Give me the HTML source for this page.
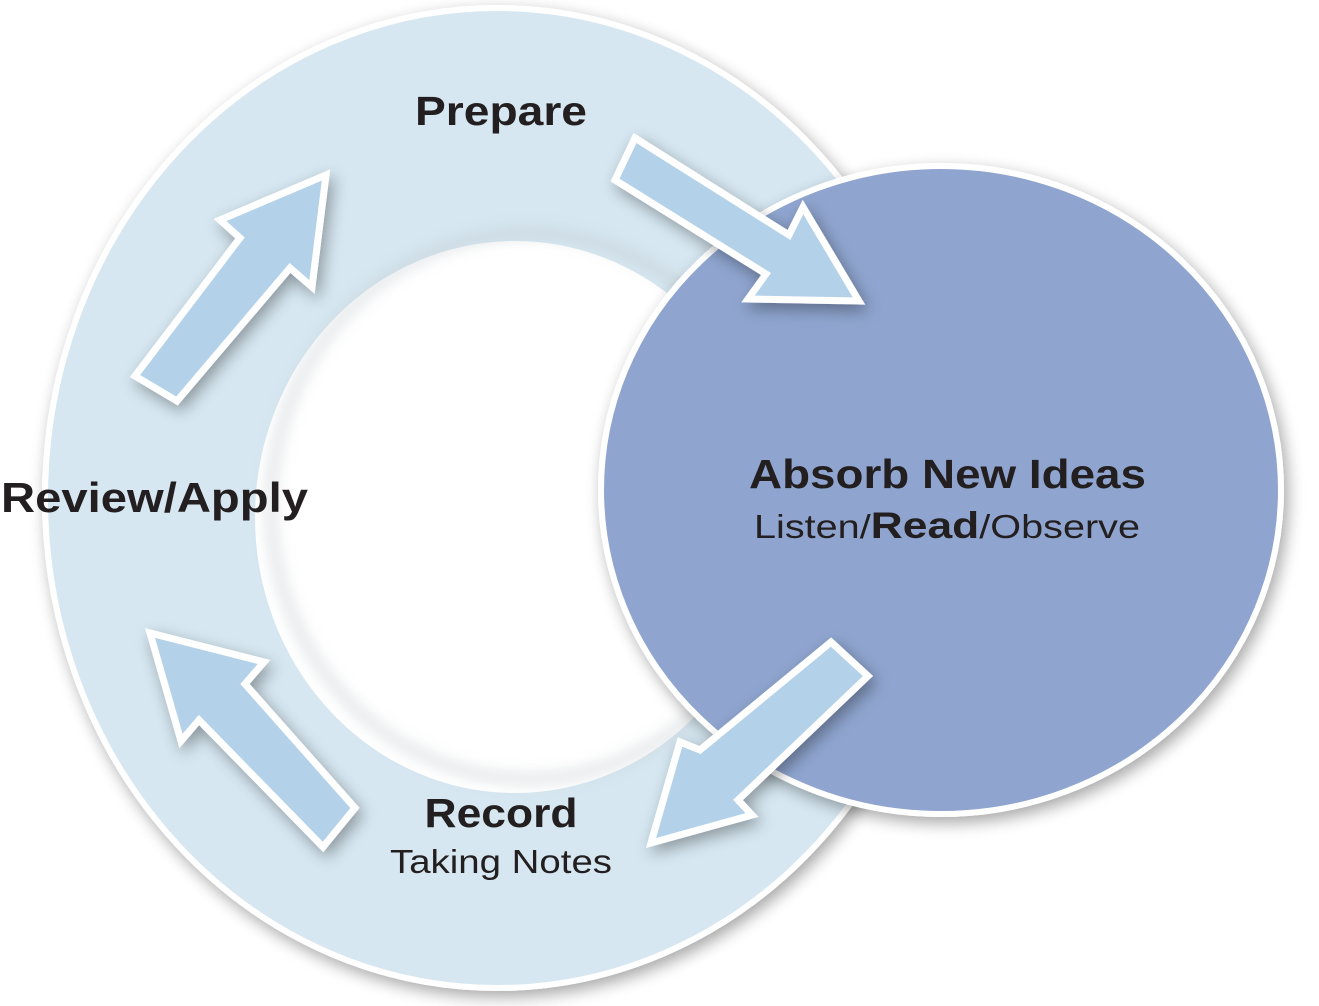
<!DOCTYPE html>
<html><head><meta charset="utf-8"><style>
html,body{margin:0;padding:0;background:#fff;}
svg{display:block;}
text{font-family:"Liberation Sans",sans-serif;fill:#231f20;}
</style></head><body>
<svg width="1319" height="1006" viewBox="0 0 1319 1006" xmlns="http://www.w3.org/2000/svg">
<defs>
<filter id="sh" x="-20%" y="-20%" width="140%" height="140%">
<feGaussianBlur in="SourceAlpha" stdDeviation="8"/>
<feOffset dx="4" dy="6"/>
<feComponentTransfer><feFuncA type="linear" slope="0.35"/></feComponentTransfer>
<feMerge><feMergeNode/><feMergeNode in="SourceGraphic"/></feMerge>
</filter>
<filter id="ish" x="-20%" y="-20%" width="140%" height="140%">
<feGaussianBlur stdDeviation="7"/>
</filter>
</defs>
<!-- outer ring -->
<ellipse cx="497" cy="498" rx="452" ry="490" fill="#d6e7f1" stroke="#fff" stroke-width="6" filter="url(#sh)"/>
<!-- inner hole -->
<ellipse cx="515" cy="517" rx="257" ry="273" fill="#fff" stroke="#fff" stroke-width="6"/>
<ellipse cx="528" cy="506" rx="257" ry="273" fill="none" stroke="#bfc7cc" stroke-width="10" filter="url(#ish)" opacity="0.5"/>
<ellipse cx="515" cy="517" rx="254" ry="270" fill="none" stroke="#fff" stroke-width="14" opacity="0"/>
<!-- blue circle -->
<ellipse cx="941" cy="490" rx="340" ry="324" fill="#8fa5cf" stroke="#fff" stroke-width="6" filter="url(#sh)"/>
<!-- arrows -->
<g fill="#b3d1e9" stroke="#fff" stroke-width="7" stroke-linejoin="miter" filter="url(#sh)">
<polygon points="135,376 240,238 220,220 326,175 312,287 290,268 177,401"/>
<polygon points="635,138 789,235 803,207 859,301 748,299 766,274 615,180"/>
<polygon points="868,676 738,800 752,815 651,843 680,742 700,750 831,642"/>
<polygon points="355,808 245,684 264,662 150,633 181,741 199,720 323,847"/>
</g>
<!-- text -->
<text x="501" y="125" font-size="41" font-weight="bold" text-anchor="middle" textLength="172" lengthAdjust="spacingAndGlyphs">Prepare</text>
<text x="1" y="512" font-size="42" font-weight="bold" textLength="307" lengthAdjust="spacingAndGlyphs">Review/Apply</text>
<text x="749" y="488" font-size="41" font-weight="bold" textLength="397" lengthAdjust="spacingAndGlyphs">Absorb New Ideas</text>
<text x="754" y="538" font-size="33" textLength="386" lengthAdjust="spacingAndGlyphs">Listen/<tspan font-weight="bold" font-size="37">Read</tspan>/Observe</text>
<text x="501" y="827" font-size="41" font-weight="bold" text-anchor="middle" textLength="153" lengthAdjust="spacingAndGlyphs">Record</text>
<text x="501" y="873" font-size="33" text-anchor="middle" textLength="222" lengthAdjust="spacingAndGlyphs">Taking Notes</text>
</svg>
</body></html>
